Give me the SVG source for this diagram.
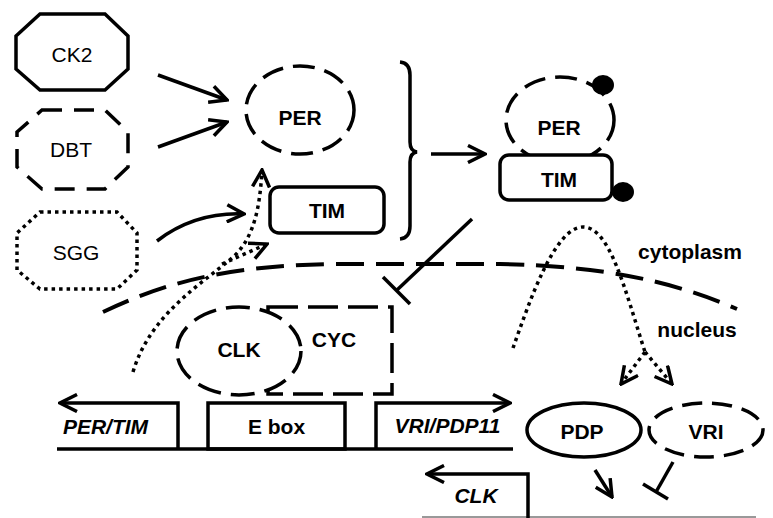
<svg xmlns="http://www.w3.org/2000/svg" width="773" height="518" viewBox="0 0 773 518">
<style>
.s{fill:none;stroke:#000;stroke-width:3.5}
.w{fill:#fff;stroke:#000;stroke-width:3.5}
.d{stroke-dasharray:24 10}
.dm{stroke-dasharray:28 12;stroke-width:4}
.dt{stroke-dasharray:3.5 4;stroke-width:3.5}
.t{font-family:"Liberation Sans",Arial,sans-serif;font-size:21px;text-anchor:middle;fill:#000}
.b{font-weight:bold}
.i{font-style:italic;font-weight:bold}
</style>
<defs>
<marker id="arr" viewBox="0 0 20 20" refX="18" refY="10" markerWidth="20" markerHeight="20" markerUnits="userSpaceOnUse" orient="auto">
<path d="M1,1.5 L18,10 L1,18.5" fill="none" stroke="#000" stroke-width="3.5" stroke-dasharray="none"/>
</marker>
</defs>

<!-- membrane -->
<g id="membrane">
<path class="s dm" d="M103,312 C160,285 220,266 330,264 L500,264 C600,266 670,280 737,309"/>
<text class="t b" x="690" y="259">cytoplasm</text>
<text class="t b" x="697" y="337">nucleus</text>
</g>

<g id="ck2">
<polygon class="s" points="40,14 105,14 128,36 128,69 105,90 40,90 16,69 16,36"/>
<text class="t" x="72" y="62">CK2</text>
</g>
<g id="dbt">
<polygon class="s" stroke-dasharray="20 12" points="42,110 105,110 128,132 128,167 105,189 42,189 17,167 17,132"/>
<text class="t" x="71" y="157">DBT</text>
</g>
<g id="sgg">
<polygon class="s dt" points="40,212 117,212 137,233 137,270 117,289 40,289 17,270 17,233"/>
<text class="t" x="76" y="260">SGG</text>
</g>

<g id="per">
<ellipse class="s" stroke-dasharray="22 10" cx="300" cy="110" rx="54" ry="44"/>
<text class="t b" x="300" y="125">PER</text>
</g>
<g id="tim">
<rect class="s" x="270" y="187" width="114" height="46" rx="9"/>
<text class="t b" x="327" y="218">TIM</text>
</g>

<g id="brace">
<path class="s" d="M400,62 Q410,63 410,75 L410,142 Q410,151 417,152 Q410,153 410,162 L410,226 Q410,238 400,239"/>
</g>

<g id="complex">
<ellipse class="s" stroke-dasharray="22 10" cx="560" cy="120" rx="54" ry="43"/>
<text class="t b" x="559" y="135">PER</text>
<ellipse cx="603" cy="85" rx="11" ry="10" fill="#000"/>
<rect class="w" x="500" y="155" width="112" height="45" rx="9"/>
<text class="t b" x="559" y="187">TIM</text>
<ellipse cx="623" cy="192" rx="11" ry="10" fill="#000"/>
</g>

<g id="cyc">
<rect class="s" stroke-dasharray="30 10" x="268" y="307" width="124" height="87"/>
<text class="t b" x="334" y="347">CYC</text>
</g>
<g id="clk">
<ellipse class="w d" cx="239" cy="351" rx="62" ry="44"/>
<text class="t b" x="239" y="357">CLK</text>
</g>

<g id="genes">
<line class="s" x1="57" y1="449" x2="513" y2="449"/>
<path class="s" marker-end="url(#arr)" d="M178,449 L178,403 L60,403"/>
<text class="t i" x="105.5" y="434">PER/TIM</text>
<rect class="s" x="208" y="403" width="137" height="46"/>
<text class="t b" x="276.5" y="434">E box</text>
<path class="s" marker-end="url(#arr)" d="M376,449 L376,403 L510,403"/>
<text class="t i" x="447.5" y="433">VRI/PDP11</text>
<line x1="422" y1="517" x2="756" y2="517" stroke="#999" stroke-width="2"/>
<path class="s" marker-end="url(#arr)" d="M528,518 L528,474 L427,474"/>
<text class="t i" x="476" y="503">CLK</text>
</g>

<g id="pdp">
<ellipse class="s" cx="584" cy="430" rx="57" ry="27"/>
<text class="t b" x="582" y="439">PDP</text>
</g>
<g id="vri">
<ellipse class="s" stroke-dasharray="20 10" cx="706" cy="430" rx="57" ry="27"/>
<text class="t b" x="706" y="439">VRI</text>
</g>

<g id="connectors">
<line class="s" marker-end="url(#arr)" x1="158" y1="75" x2="227" y2="100"/>
<line class="s" marker-end="url(#arr)" x1="158" y1="147" x2="227" y2="122"/>
<path class="s" marker-end="url(#arr)" d="M157,241 Q195,212 244,214"/>
<path class="s dt" marker-end="url(#arr)" d="M133,372 C150,315 200,285 232,258 C255,238 260,205 262,170"/>
<path class="s dt" marker-end="url(#arr)" d="M222,264 L267,244"/>
<line class="s" marker-end="url(#arr)" x1="431" y1="154" x2="485" y2="154"/>
<line class="s" x1="472" y1="219" x2="397" y2="290"/>
<line class="s" x1="383" y1="277" x2="410" y2="304"/>
<path class="s dt" d="M513,348 C530,300 555,227 583,227 C610,227 625,290 645,352"/>
<path class="s dt" marker-end="url(#arr)" d="M645,352 L621,384"/>
<path class="s dt" marker-end="url(#arr)" d="M645,352 L672,384"/>
<line class="s" marker-end="url(#arr)" x1="595" y1="470" x2="612" y2="497"/>
<line class="s" x1="673" y1="462" x2="656" y2="492"/>
<line class="s" x1="643" y1="484" x2="668" y2="499"/>
</g>
</svg>
